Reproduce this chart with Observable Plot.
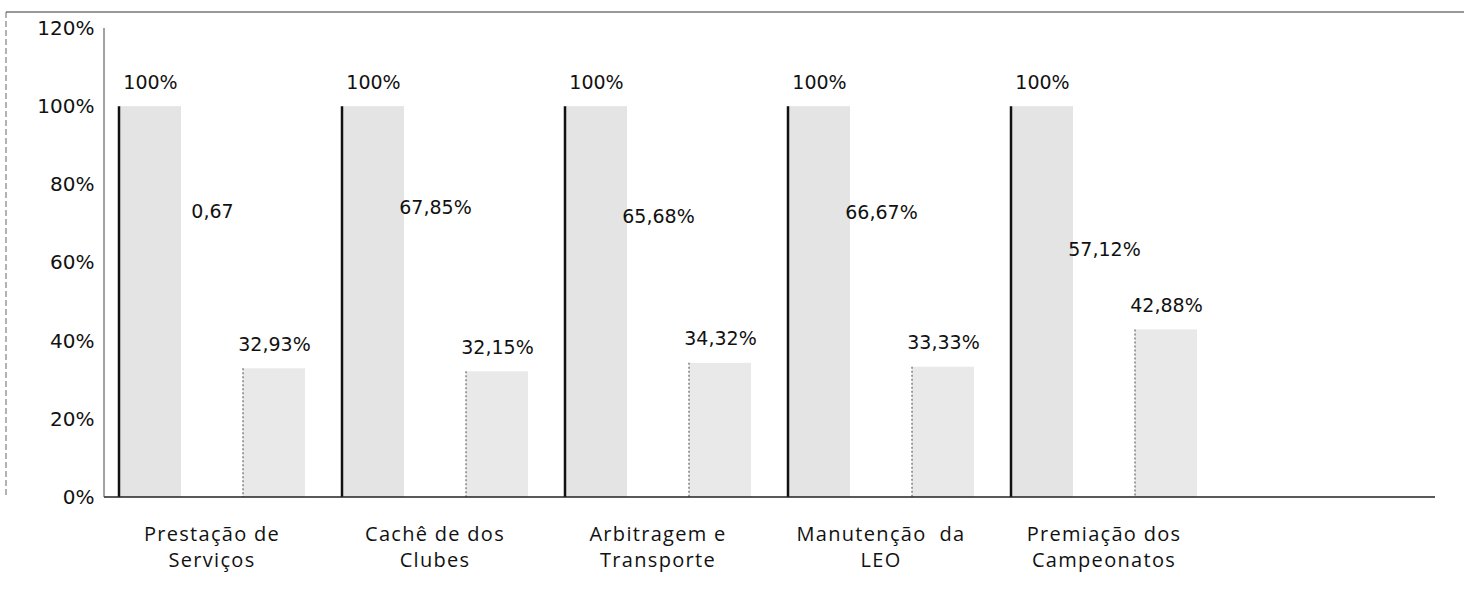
<!DOCTYPE html>
<html><head><meta charset="utf-8">
<script src="https://cdn.jsdelivr.net/npm/d3@7"></script>
<script src="https://cdn.jsdelivr.net/npm/@observablehq/plot@0.6"></script>
<style>body{margin:0;background:#fff}</style>
</head><body><div id="c"></div>
<script>
const categories = ["Prestação de Serviços","Cachê de dos Clubes","Arbitragem e Transporte","Manutenção da LEO","Premiação dos Campeonatos"];
const categoryLabels = ["Prestação de\nServiços","Cachê de dos\nClubes","Arbitragem e\nTransporte","Manutenção  da\nLEO","Premiação dos\nCampeonatos"];
const series = ["total","middle","part"];
const totalValues = [1,1,1,1,1];
const totalLabels = ["100%","100%","100%","100%","100%"];
const middleValues = [0.67,0.6785,0.6568,0.6667,0.5712];
const middleLabels = ["0,67","67,85%","65,68%","66,67%","57,12%"];
const partValues = [0.3293,0.3215,0.3432,0.3333,0.4288];
const partLabels = ["32,93%","32,15%","34,32%","33,33%","42,88%"];
const yTicks = [0,0.2,0.4,0.6,0.8,1,1.2];
const yTickLabels = ["0%","20%","40%","60%","80%","100%","120%"];
const seriesFill = {total:"#e4e4e4", middle:"#ffffff", part:"#e9e9e9"};

const rows = [];
categories.forEach((c,i)=>{
  rows.push({category:c, series:"total", value:totalValues[i], label:totalLabels[i]});
  rows.push({category:c, series:"middle", value:middleValues[i], label:middleLabels[i]});
  rows.push({category:c, series:"part", value:partValues[i], label:partLabels[i]});
});

const W = 1464, H = 590, ML = 104, MR = 29, MT = 28, MB = 93;
const chart = Plot.plot({
  width: W, height: H, marginLeft: ML, marginRight: MR, marginTop: MT, marginBottom: MB,
  style: {fontFamily: "DejaVu Sans", background: "white", color: "#111"},
  fx: {domain: [...categories, ""], paddingInner: 0.16, paddingOuter: 0.06, label: null},
  x: {domain: series, padding: 0, axis: null},
  y: {domain: [0, 1.2], axis: null},
  marks: [
    Plot.barY(rows, {fx: "category", x: "series", y: "value", fill: d => seriesFill[d.series]}),
    Plot.text(rows, {fx: "category", x: "series", y: "value", text: "label", dy: -24, fontSize: 19, fill: "#111"}),
    Plot.axisY({ticks: yTicks, tickFormat: d => yTickLabels[yTicks.indexOf(d)], tickSize: 0, tickPadding: 24, fontSize: 20, label: null}),
    Plot.axisFx({anchor: "bottom", tickFormat: d => { const i = categories.indexOf(d); return i < 0 ? "" : categoryLabels[i]; },
      tickSize: 0, tickPadding: 25, fontSize: 20, lineHeight: 1.3, fontFamily: "Open Sans", label: null})
  ]
});
document.getElementById("c").appendChild(chart);

const svg = d3.select(chart);
svg.selectAll('g[aria-label="fx-axis tick label"] text').style("letter-spacing", "1.3px");
const y = chart.scale("y");
svg.selectAll("rect").each(function() {
  const f = this.getAttribute("fill");
  const x = +this.getAttribute("x"), yy = +this.getAttribute("y"), h = +this.getAttribute("height");
  if (f === seriesFill.total) {
    d3.select(this.parentNode).append("line").attr("x1", x).attr("x2", x).attr("y1", yy).attr("y2", yy + h)
      .attr("stroke", "#111").attr("stroke-width", 2.5);
  } else if (f === seriesFill.part) {
    d3.select(this.parentNode).append("line").attr("x1", x).attr("x2", x).attr("y1", yy).attr("y2", yy + h)
      .attr("stroke", "#666").attr("stroke-width", 1.2).attr("stroke-dasharray", "2,2");
  }
});
svg.append("line").attr("x1", ML).attr("x2", W - MR).attr("y1", y.apply(0)).attr("y2", y.apply(0))
  .attr("stroke", "#222").attr("stroke-width", 1.5);
svg.append("line").attr("x1", ML).attr("x2", ML).attr("y1", y.apply(1.2)).attr("y2", y.apply(0))
  .attr("stroke", "#444").attr("stroke-width", 1);
svg.append("line").attr("x1", 6).attr("x2", W).attr("y1", 12).attr("y2", 12).attr("stroke", "#333").attr("stroke-width", 1.2);
svg.append("line").attr("x1", 6).attr("x2", 6).attr("y1", 12).attr("y2", y.apply(0)).attr("stroke", "#666").attr("stroke-width", 1).attr("stroke-dasharray", "6,3");
</script>
</body></html>
